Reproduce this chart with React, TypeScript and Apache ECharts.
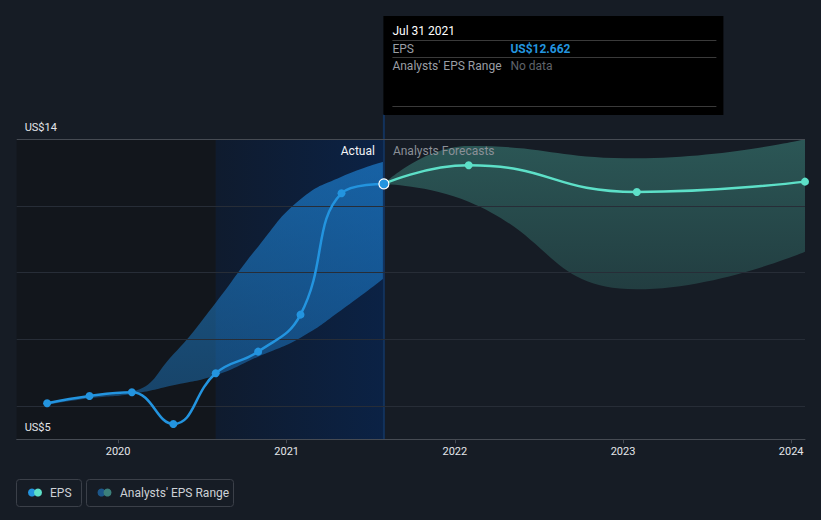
import React, { useEffect, useRef } from 'react';
import * as echarts from 'echarts';

// ---- data ----
const actualDates = ['2019-07-31', '2019-10-31', '2020-01-31', '2020-04-30', '2020-07-31', '2020-10-31', '2021-01-31', '2021-04-30', '2021-07-31'];
const actualEps = [6.08, 6.3, 6.41, 5.46, 6.98, 7.63, 8.74, 12.38, 12.662];
const pastRangeLow = [6.03, 6.23, 6.36, 6.62, 6.92, 7.48, 8.05, 8.88, 9.83];
const pastRangeHigh = [6.08, 6.3, 6.43, 7.55, 9.1, 10.78, 12.2, 12.88, 13.33];

const forecastDates = ['2021-07-31', '2022-01-31', '2023-01-31', '2024-01-31'];
const forecastEps = [12.662, 13.22, 12.42, 12.73];
const forecastLow = [12.662, 12.13, 9.5, 10.63];
const forecastHigh = [12.662, 13.8, 13.43, 14.0];

const yLabelValues = [5, 14];
const gridValues = [6, 8, 10, 12, 14];
const xMin = '2019-05-26';
const xMax = '2024-01-31';
const highlightStart = '2020-07-31';
const lastActualDate = '2021-07-31';
const lastActualEps = 12.662;

const BG = '#161c25';
const BLUE = '#2394df';
const MINT = '#5de0c8';
const FONT = 'Roboto, "Noto Sans", sans-serif';
const YEAR_MS = 365 * 24 * 3600 * 1000;

const ts = (d: string) => new Date(d + 'T00:00:00').getTime();
const pair = (d: string[], v: number[]) => d.map((x, i) => [x, v[i]]);
const diff = (lo: number[], hi: number[]) => hi.map((h, i) => +(h - lo[i]).toFixed(4));

export default function App() {
  const ref = useRef<HTMLDivElement>(null);
  useEffect(() => {
    document.body.style.margin = '0';
    const chart = echarts.init(ref.current!, null, { renderer: 'svg' });
    const option: any = {
      animation: false,
      backgroundColor: BG,
      textStyle: { fontFamily: FONT },
      grid: { left: 16.7, right: 16, top: 139.3, bottom: 80.7, containLabel: false },
      xAxis: {
        type: 'time',
        min: xMin,
        max: xMax,
        z: 6,
        minInterval: YEAR_MS,
        maxInterval: YEAR_MS + 24 * 3600 * 1000,
        axisLine: { show: true, lineStyle: { color: '#464b53', width: 1 } },
        axisTick: { show: true, length: 4, lineStyle: { color: '#464b53' } },
        axisLabel: {
          formatter: (v: number) => {
            const d = new Date(v);
            return d.getMonth() === 0 && d.getDate() === 1 ? String(d.getFullYear()) : '';
          },
          color: '#e4e6ea',
          fontSize: 11,
          margin: 7,
          fontFamily: FONT,
        },
        splitLine: { show: false },
      },
      yAxis: {
        type: 'value',
        min: 5,
        max: 14,
        z: 6,
        axisLine: { show: false },
        axisTick: { show: false },
        splitLine: { show: false },
        axisLabel: {
          inside: true,
          customValues: yLabelValues,
          showMinLabel: true,
          showMaxLabel: true,
          formatter: (v: number) => 'US$' + v,
          color: '#e4e6ea',
          fontSize: 11,
          margin: 8,
          verticalAlign: 'bottom',
          lineHeight: 13,
          padding: [0, 0, 5, 0],
          fontFamily: FONT,
        },
      },
      series: [
        {
          name: 'bg',
          type: 'line',
          data: [],
          z: 0,
          silent: true,
          markArea: {
            silent: true,
            data: [
              [{ xAxis: xMin, itemStyle: { color: '#12161c' } }, { xAxis: highlightStart }],
              [
                {
                  xAxis: highlightStart,
                  itemStyle: {
                    color: {
                      type: 'linear', x: 0, y: 0, x2: 1, y2: 0,
                      colorStops: [
                        { offset: 0, color: '#0f1b2e' },
                        { offset: 1, color: '#0b2245' },
                      ],
                    },
                  },
                },
                { xAxis: lastActualDate },
              ],
            ],
          },
        },
        {
          name: 'grid',
          type: 'line',
          data: [],
          z: 1,
          silent: true,
          markLine: {
            silent: true,
            symbol: 'none',
            label: { show: false },
            data: gridValues.map((v) => ({
              yAxis: v,
              lineStyle: { color: v === 14 ? '#464b53' : '#272d37', width: 1, type: 'solid' },
            })),
          },
        },
        {
          name: 'pastLow',
          type: 'line',
          stack: 'past',
          data: pair(actualDates, pastRangeLow),
          symbol: 'none',
          smooth: 0.5,
          lineStyle: { opacity: 0 },
          silent: true,
          z: 2,
        },
        {
          name: 'pastBand',
          type: 'line',
          stack: 'past',
          data: pair(actualDates, diff(pastRangeLow, pastRangeHigh)),
          symbol: 'none',
          smooth: 0.5,
          lineStyle: { opacity: 0 },
          silent: true,
          z: 2,
          areaStyle: {
            opacity: 1,
            color: {
              type: 'linear', x: 0, y: 0, x2: 0, y2: 1,
              colorStops: [
                { offset: 0, color: 'rgba(33,150,243,0.55)' },
                { offset: 1, color: 'rgba(33,150,243,0.35)' },
              ],
            },
          },
        },
        {
          name: 'futLow',
          type: 'line',
          stack: 'fut',
          data: pair(forecastDates, forecastLow),
          symbol: 'none',
          smooth: 0.5,
          lineStyle: { opacity: 0 },
          silent: true,
          z: 2,
        },
        {
          name: 'futBand',
          type: 'line',
          stack: 'fut',
          data: pair(forecastDates, diff(forecastLow, forecastHigh)),
          symbol: 'none',
          smooth: 0.5,
          lineStyle: { opacity: 0 },
          silent: true,
          z: 2,
          areaStyle: {
            opacity: 1,
            color: {
              type: 'linear', x: 0, y: 0, x2: 0, y2: 1,
              colorStops: [
                { offset: 0, color: 'rgba(93,224,200,0.30)' },
                { offset: 1, color: 'rgba(93,224,200,0.17)' },
              ],
            },
          },
        },
        {
          name: 'EPS forecast',
          type: 'line',
          data: forecastDates.map((d, i) =>
            i === 0 ? { value: [d, forecastEps[i]], symbol: 'none' } : { value: [d, forecastEps[i]] }
          ),
          smooth: 0.5,
          symbol: 'circle',
          symbolSize: 8,
          lineStyle: { color: MINT, width: 2.5 },
          itemStyle: { color: MINT },
          z: 4,
        },
        {
          name: 'EPS',
          type: 'line',
          data: actualDates.map((d, i) =>
            i === actualDates.length - 1
              ? { value: [d, actualEps[i]], symbolSize: 10, itemStyle: { color: BLUE, borderColor: '#ffffff', borderWidth: 1.2 } }
              : { value: [d, actualEps[i]] }
          ),
          smooth: 0.45,
          symbol: 'circle',
          symbolSize: 8,
          lineStyle: { color: BLUE, width: 2.5 },
          itemStyle: { color: BLUE },
          z: 5,
        },
      ],
    };
    chart.setOption(option);

    const pTop = chart.convertToPixel({ gridIndex: 0 }, [ts(lastActualDate), 14]) as number[];
    const pBot = chart.convertToPixel({ gridIndex: 0 }, [ts(lastActualDate), 5]) as number[];
    const xL = pTop[0];
    const boxX = xL - 0.5;
    const boxY = 16;
    const txtX = boxX + 9;
    const valX = boxX + 127;
    const lineW = 324;

    const graphic: any[] = [
      { type: 'rect', shape: { x: xL - 1, y: boxY + 98, width: 2, height: pBot[1] - (boxY + 98) }, style: { fill: '#12325c' }, z: 3 },
      { type: 'text', x: xL - 9, y: pTop[1] + 12, style: { text: 'Actual', fill: '#f2f4f6', font: '12px ' + FONT, textAlign: 'right', textVerticalAlign: 'middle' }, z: 10 },
      { type: 'text', x: xL + 9, y: pTop[1] + 12, style: { text: 'Analysts Forecasts', fill: '#8b9098', font: '12px ' + FONT, textAlign: 'left', textVerticalAlign: 'middle' }, z: 10 },
      { type: 'rect', shape: { x: boxX, y: boxY, width: 340, height: 99 }, style: { fill: '#000000' }, z: 20 },
      { type: 'text', x: txtX, y: boxY + 14.5, style: { text: 'Jul 31 2021', fill: '#ffffff', font: '12px ' + FONT, textVerticalAlign: 'middle' }, z: 21 },
      { type: 'line', shape: { x1: txtX, y1: boxY + 24.5, x2: txtX + lineW, y2: boxY + 24.5 }, style: { stroke: '#3a3a3a', lineWidth: 1 }, z: 21 },
      { type: 'text', x: txtX, y: boxY + 32.5, style: { text: 'EPS', fill: '#9a9ea4', font: '12px ' + FONT, textVerticalAlign: 'middle' }, z: 21 },
      { type: 'text', x: valX, y: boxY + 32.5, style: { text: 'US$' + lastActualEps, fill: BLUE, font: 'bold 12px ' + FONT, textVerticalAlign: 'middle' }, z: 21 },
      { type: 'line', shape: { x1: txtX, y1: boxY + 41.5, x2: txtX + lineW, y2: boxY + 41.5 }, style: { stroke: '#3a3a3a', lineWidth: 1 }, z: 21 },
      { type: 'text', x: txtX, y: boxY + 49.5, style: { text: "Analysts' EPS Range", fill: '#9a9ea4', font: '12px ' + FONT, textVerticalAlign: 'middle' }, z: 21 },
      { type: 'text', x: valX, y: boxY + 49.5, style: { text: 'No data', fill: '#5f636a', font: '12px ' + FONT, textVerticalAlign: 'middle' }, z: 21 },
      { type: 'line', shape: { x1: txtX, y1: boxY + 90.5, x2: txtX + lineW, y2: boxY + 90.5 }, style: { stroke: '#3a3a3a', lineWidth: 1 }, z: 21 },
      { type: 'rect', shape: { x: 16.5, y: 479.5, width: 65, height: 27, r: 3 }, style: { fill: 'transparent', stroke: '#3b4049', lineWidth: 1 }, z: 10 },
      { type: 'circle', shape: { cx: 32, cy: 492.5, r: 4 }, style: { fill: BLUE }, z: 11 },
      { type: 'circle', shape: { cx: 38, cy: 492.5, r: 4 }, style: { fill: MINT }, z: 12 },
      { type: 'text', x: 50, y: 493, style: { text: 'EPS', fill: '#cdd1d6', font: '12px ' + FONT, textVerticalAlign: 'middle' }, z: 11 },
      { type: 'rect', shape: { x: 86.5, y: 479.5, width: 147, height: 27, r: 3 }, style: { fill: 'transparent', stroke: '#3b4049', lineWidth: 1 }, z: 10 },
      { type: 'circle', shape: { cx: 101.5, cy: 492.5, r: 4 }, style: { fill: '#1c5689' }, z: 11 },
      { type: 'circle', shape: { cx: 107.5, cy: 492.5, r: 4 }, style: { fill: '#3c807b' }, z: 12 },
      { type: 'text', x: 120, y: 493, style: { text: "Analysts' EPS Range", fill: '#cdd1d6', font: '12px ' + FONT, textVerticalAlign: 'middle' }, z: 11 },
    ];
    chart.setOption({ graphic });

    return () => chart.dispose();
  }, []);
  return <div ref={ref} style={{ position: 'absolute', left: 0, top: 0, width: 821, height: 520, background: BG }} />;
}
